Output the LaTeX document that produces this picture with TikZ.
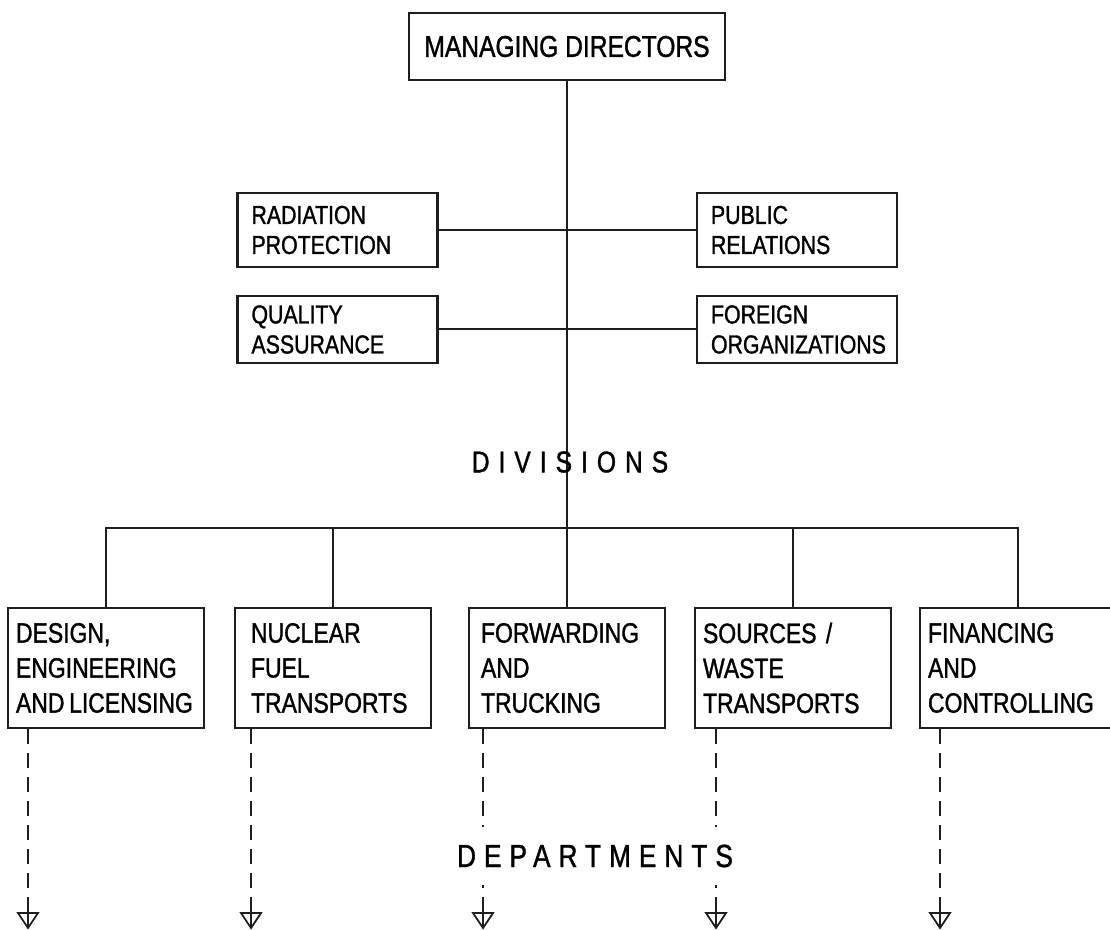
\documentclass[tikz,border=0pt]{standalone}
\usepackage{fontspec}
\setmainfont{Liberation Sans}[FakeStretch=0.82, FakeBold=1.2]

\definecolor{ink}{RGB}{30,30,30}

\tikzset{
    link/.style={draw=ink, line width=1pt},
    deptline/.style={draw=ink, line width=0.9pt, dash pattern=on 7.5pt off 4.5pt},
    board/.style={draw=ink, line width=1.2pt, inner sep=4pt, minimum width=158pt, minimum height=33.5pt,
        font=\fontsize{15}{18}\selectfont},
    staff/.style={draw=ink, line width=1.2pt, align=left, inner xsep=7pt, text width=86pt,
        font=\fontsize{13}{15}\selectfont},
    division/.style={draw=ink, line width=1.2pt, align=left, inner xsep=4pt, text width=90pt,
        minimum height=60pt, font=\fontsize{14}{17.5}\selectfont},
    deptarrow/.pic={\draw[ink, line width=0.9pt] (-10,0) -- (10,0) -- (0,15) -- cycle (0,0) -- (0,15);}
}

\begin{document}
\begin{tikzpicture}[x=0.5pt, y=-0.5pt]
    \useasboundingbox (0,0) rectangle (1110,930);

    % Managing directors
    \node [board] (md) at (567,46.5) {MANAGING DIRECTORS};

    % Staff units
    \node [staff, minimum height=37pt] (rad) at (337.5,230) {RADIATION\\PROTECTION};
    \node [staff, minimum height=37pt] (pr) at (797,230) {PUBLIC\\RELATIONS};
    \node [staff, minimum height=33.5pt] (qa) at (337.5,329.5) {QUALITY\\ASSURANCE};
    \node [staff, minimum height=33.5pt] (fo) at (797,329.5) {FOREIGN\\ORGANIZATIONS};

    % Divisions
    \node [division] (d1) at (106,668) {DESIGN,\\ENGINEERING\\\mbox{AND\,LICENSING}};
    \node [division] (d2) at (333,668) {\hspace*{4pt}NUCLEAR\\\hspace*{4pt}FUEL\\\hspace*{4pt}TRANSPORTS};
    \node [division] (d3) at (567,668) {\hspace*{2pt}FORWARDING\\\hspace*{2pt}AND\\\hspace*{2pt}TRUCKING};
    \node [division] (d4) at (793,668) {SOURCES /\\WASTE\\TRANSPORTS};
    \node [division] (d5) at (1018,668) {FINANCING\\AND\\CONTROLLING};

    \coordinate (bus) at (567,528);

    % Solid lines
    \draw [link] (md.south) -- (bus);
    \draw [link] (rad.east) -- (pr.west);
    \draw [link] (qa.east) -- (fo.west);
    \draw [link] (d1.north) |- (bus) -| (d5.north);
    \draw [link] (d2.north) -- (d2.north |- bus);
    \draw [link] (bus) -- (d3.north);
    \draw [link] (d4.north) -- (d4.north |- bus);

    \node [font=\fontsize{15}{18}\selectfont\addfontfeature{LetterSpace=30}] (div) at (570,462) {DIVISIONS};

    % Dashed lines down to the departments
    \coordinate (e1) at (28,913);
    \coordinate (e2) at (251,913);
    \coordinate (e3) at (483,913);
    \coordinate (e4) at (716,913);
    \coordinate (e5) at (940,913);
    \draw [deptline] (d1.south -| e1) -- (e1);
    \draw [deptline] (d2.south -| e2) -- (e2);
    \draw [deptline] (d3.south -| e3) -- (e3);
    \draw [deptline] (d4.south -| e4) -- (e4);
    \draw [deptline] (d5.south -| e5) -- (e5);
    \pic at (e1) {deptarrow};
    \pic at (e2) {deptarrow};
    \pic at (e3) {deptarrow};
    \pic at (e4) {deptarrow};
    \pic at (e5) {deptarrow};

    \node [fill=white, inner xsep=1pt, inner ysep=9pt, font=\fontsize{16}{19}\selectfont\addfontfeature{LetterSpace=25}] (dep) at (595,856) {DEPARTMENTS};

\end{tikzpicture}
\end{document}
